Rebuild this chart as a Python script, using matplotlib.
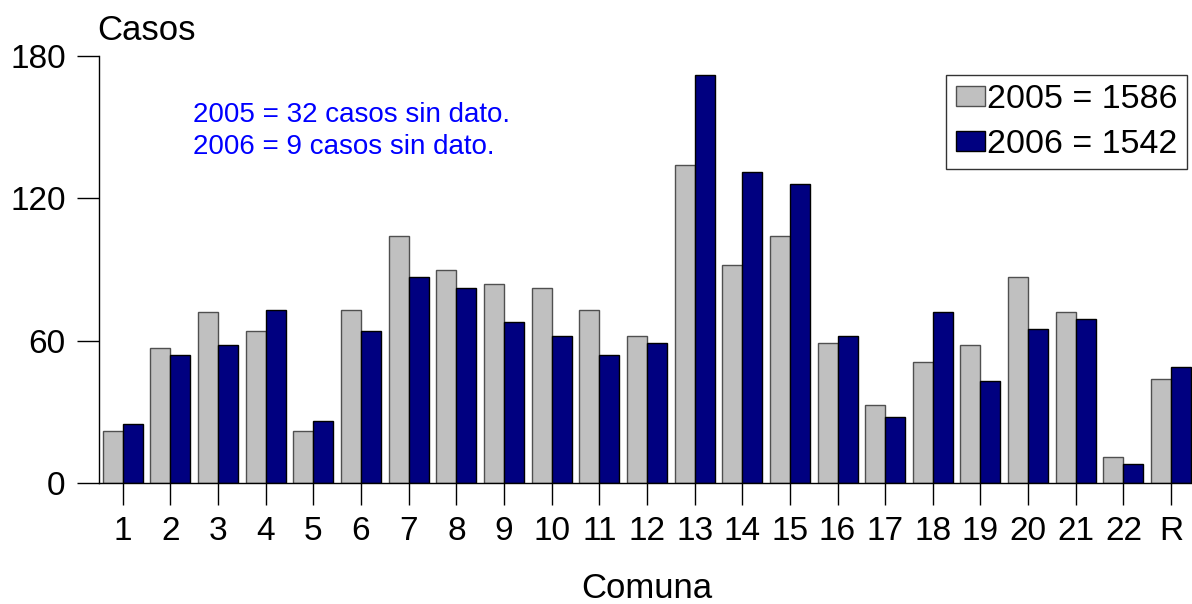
import numpy as np
import matplotlib
matplotlib.use('Agg')
import matplotlib.pyplot as plt

plt.rcParams['font.family'] = ['Liberation Sans', 'DejaVu Sans']

comunas = ['1', '2', '3', '4', '5', '6', '7', '8', '9', '10', '11', '12',
           '13', '14', '15', '16', '17', '18', '19', '20', '21', '22', 'R']
casos_2005 = [22, 57, 72, 64, 22, 73, 104, 90, 84, 82, 73, 62,
              134, 92, 104, 59, 33, 51, 58, 87, 72, 11, 44]
casos_2006 = [25, 54, 58, 73, 26, 64, 87, 82, 68, 62, 54, 59,
              172, 131, 126, 62, 28, 72, 43, 65, 69, 8, 49]
leyenda = ['2005 = 1586', '2006 = 1542']
nota = '2005 = 32 casos sin dato.\n2006 = 9 casos sin dato.'

W, H = 1192, 604
fig = plt.figure(figsize=(W / 100, H / 100), dpi=100)
ax = fig.add_axes([99 / W, 1 - 483 / H, 1 - 99 / W, (483 - 56) / H])

x = np.arange(1, len(comunas) + 1)
w = 0.42
ax.bar(x - w / 2, casos_2005, w, color='#c0c0c0', edgecolor='#505050',
       linewidth=1, label=leyenda[0])
ax.bar(x + w / 2, casos_2006, w, color='#000080', edgecolor='black',
       linewidth=1, label=leyenda[1])

ax.set_xlim(0.5, 23.44)
ax.set_ylim(0, 180)
ax.set_yticks([0, 60, 120, 180])
ax.set_xticks(x)
ax.set_xticklabels(comunas)

for s in ['top', 'right']:
    ax.spines[s].set_visible(False)
ax.spines['left'].set_linewidth(1)
ax.spines['bottom'].set_linewidth(1)
ax.tick_params(axis='both', direction='out', length=16, width=1,
               labelsize=24, pad=8)

# etiquetas de ejes puestas a mano
fig.text(647 / W, 1 - 589 / H, 'Comuna', fontsize=25, ha='center', va='center')
fig.text(97 / W, 1 - 30 / H, 'Casos', fontsize=25, ha='left', va='center')

fig.text(193 / W, 1 - 131 / H, nota, color='blue', fontsize=20,
         ha='left', va='center', linespacing=1.3)

leg = ax.legend(loc='upper right', bbox_to_anchor=(1 - 5 / 1093, 1 - (75 - 56) / 427),
                fontsize=24.5, frameon=True, fancybox=False, borderpad=0.27,
                handlelength=0.85, handleheight=0.55, handletextpad=0.08,
                labelspacing=0.4, borderaxespad=0)
leg.get_frame().set_edgecolor('black')
leg.get_frame().set_linewidth(1)

fig.savefig('out.png', dpi=100)
